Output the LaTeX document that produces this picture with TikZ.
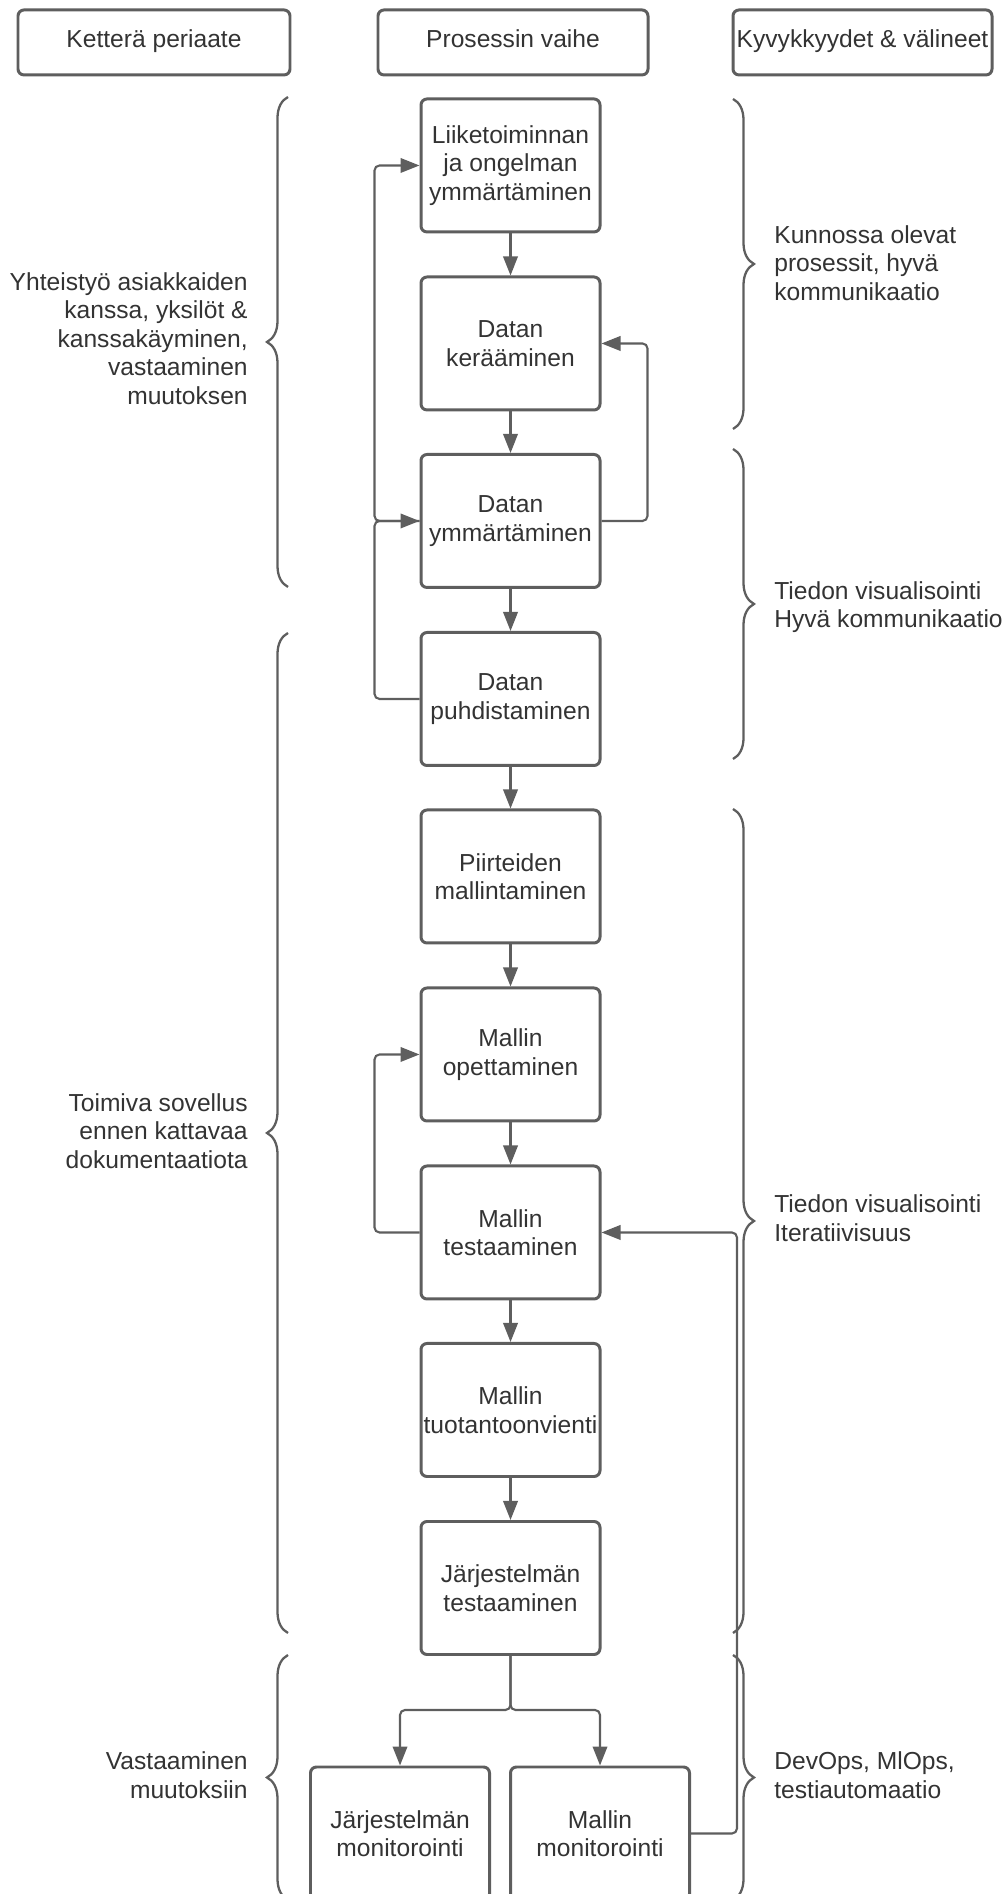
\documentclass[tikz,border=0pt]{standalone}
\usepackage{fontspec}
\setmainfont{Liberation Sans}
\usetikzlibrary{arrows.meta,decorations.pathreplacing}
\definecolor{linegray}{HTML}{5E5E5E}
\definecolor{textgray}{HTML}{333333}
\tikzset{
  phase/.style={draw=linegray, line width=1.7pt, rounded corners=0.12cm, minimum width=3.58cm, minimum height=2.66cm, inner sep=0pt, align=center, text=textgray},
  header/.style={draw=linegray, line width=1.7pt, rounded corners=0.12cm, minimum height=1.3cm, inner sep=0pt, text height=1.6ex, text depth=0.5ex, text=textgray},
  note/.style={text=textgray, inner sep=0pt},
  flow/.style={draw=linegray, line width=1.2pt, rounded corners=0.1cm, -{Triangle[length=0.38cm,width=0.29cm]}},
  curly/.style={draw=linegray, line width=1.3pt, decorate, decoration={brace, amplitude=0.42cm}},
}
\begin{document}
\begin{tikzpicture}[font=\fontsize{14pt}{16.2pt}\selectfont]
\useasboundingbox (0,0) rectangle (20.16,37.88);
\clip (0,0) rectangle (20.16,37.88);

\node[header, minimum width=5.44cm] (Header 1) at (3.08,37.03) {Ketterä periaate};
\node[header, minimum width=5.4cm] (Header 2) at (10.26,37.03) {Prosessin vaihe};
\node[header, minimum width=5.18cm] (Header 3) at (17.25,37.03) {Kyvykkyydet \& välineet};

\node[phase] (Phase 1) at (10.21,34.57) {Liiketoiminnan\\ja ongelman\\ymmärtäminen};
\node[phase] (Phase 2) at (10.21,31.01) {Datan\\kerääminen};
\node[phase] (Phase 3) at (10.21,27.46) {Datan\\ymmärtäminen};
\node[phase] (Phase 4) at (10.21,23.90) {Datan\\puhdistaminen};
\node[phase] (Phase 5) at (10.21,20.35) {Piirteiden\\mallintaminen};
\node[phase] (Phase 6) at (10.21,16.79) {Mallin\\opettaminen};
\node[phase] (Phase 7) at (10.21,13.23) {Mallin\\testaaminen};
\node[phase] (Phase 8) at (10.21,9.68) {Mallin\\tuotantoonvienti};
\node[phase] (Phase 9) at (10.21,6.12) {Järjestelmän\\testaaminen};
\node[phase] (Monitor 1) at (8.0,1.21) {Järjestelmän\\monitorointi};
\node[phase] (Monitor 2) at (12.0,1.21) {Mallin\\monitorointi};

\draw[flow] (Phase 1) -- (Phase 2);
\draw[flow] (Phase 2) -- (Phase 3);
\draw[flow] (Phase 3) -- (Phase 4);
\draw[flow] (Phase 4) -- (Phase 5);
\draw[flow] (Phase 5) -- (Phase 6);
\draw[flow] (Phase 6) -- (Phase 7);
\draw[flow] (Phase 7) -- (Phase 8);
\draw[flow] (Phase 8) -- (Phase 9);

\draw[flow] (Phase 3.west) -- ++(-0.9,0) |- (Phase 1.west);
\draw[flow] (Phase 4.west) -- ++(-0.9,0) |- (Phase 3.west);
\draw[flow] (Phase 3.east) -- ++(0.92,0) |- (Phase 2.east);
\draw[flow] (Phase 7.west) -- ++(-0.9,0) |- (Phase 6.west);
\draw[flow] (Phase 9.south) -- ++(0,-1.08) -| (Monitor 1.north);
\draw[flow] (Phase 9.south) -- ++(0,-1.08) -| (Monitor 2.north);
\draw[flow] (Monitor 2.east) -- ++(0.92,0) |- (Phase 7.east);

% agile principles
\draw[curly] (5.76,26.14) -- (5.76,35.94);
\draw[curly] (5.76,5.22) -- (5.76,25.22);
\draw[curly] (5.76,-0.12) -- (5.76,4.78);
\node[note, anchor=east, align=right] (Principle 1) at (4.96,31.11) {Yhteistyö asiakkaiden\\kanssa, yksilöt \&\\kanssakäyminen,\\vastaaminen\\muutoksen};
\node[note, anchor=east, align=right] (Principle 2) at (4.96,15.26) {Toimiva sovellus\\ennen kattavaa\\dokumentaatiota};
\node[note, anchor=east, align=right] (Principle 3) at (4.96,2.38) {Vastaaminen\\muutoksiin};

% capabilities & tools
\draw[curly] (14.66,35.90) -- (14.66,29.30);
\draw[curly] (14.66,28.90) -- (14.66,22.70);
\draw[curly] (14.66,21.70) -- (14.66,5.22);
\draw[curly] (14.66,4.78) -- (14.66,-0.12);
\node[note, anchor=west, align=left] (Tool 1) at (15.48,32.62) {Kunnossa olevat\\prosessit, hyvä\\kommunikaatio};
\node[note, anchor=west, align=left] (Tool 2) at (15.48,25.74) {Tiedon visualisointi\\Hyvä kommunikaatio};
\node[note, anchor=west, align=left] (Tool 3) at (15.48,13.52) {Tiedon visualisointi\\Iteratiivisuus};
\node[note, anchor=west, align=left] (Tool 4) at (15.48,2.38) {DevOps, MlOps,\\testiautomaatio};
\end{tikzpicture}
\end{document}
